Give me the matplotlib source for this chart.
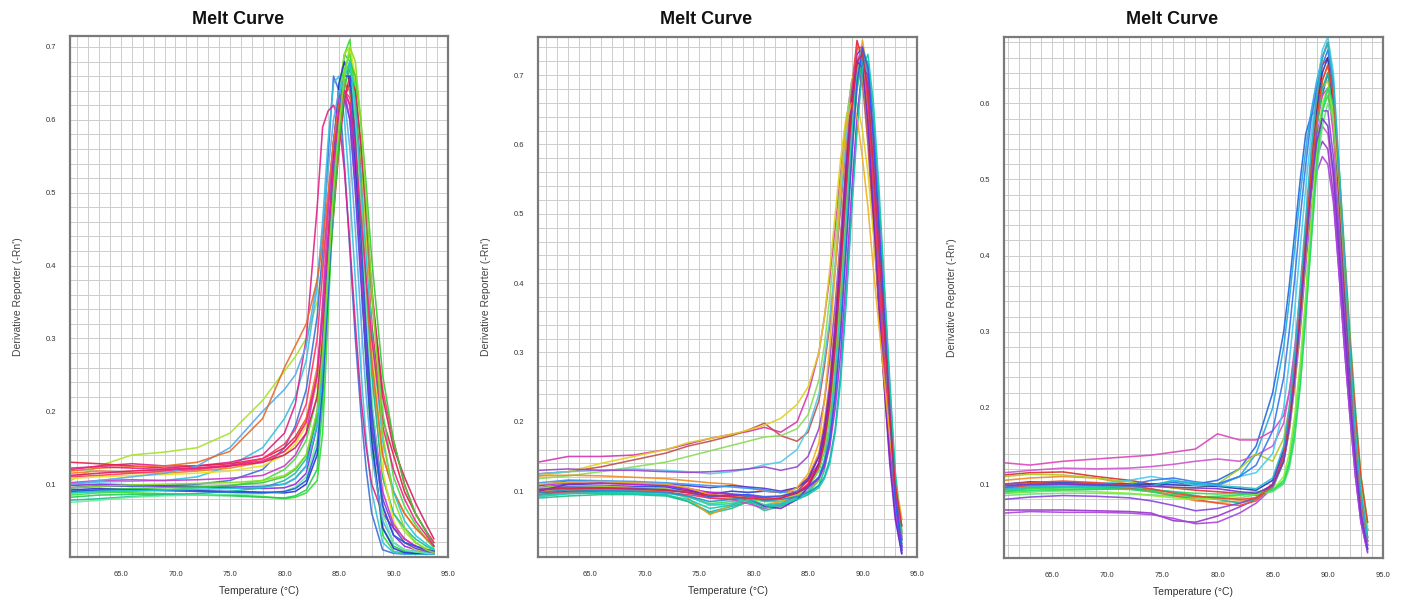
import matplotlib
matplotlib.use("Agg")
import matplotlib.pyplot as plt
from matplotlib.ticker import MultipleLocator, FormatStrFormatter

plt.rcParams['font.family'] = ['Liberation Sans', 'DejaVu Sans']

# ---------------- Panel 1 data ----------------
T1 = [60.4, 63, 66, 69, 72, 75, 78, 80, 81, 82, 83, 83.5, 84, 84.5, 85, 85.5, 86,
      86.5, 87, 87.5, 88, 89, 90, 91, 92, 93, 93.7]
p1_colors = ['#2ee02e', '#22cc55', '#a6e22e', '#3b6fd8', '#35c0e0', '#e0208a', '#e02040',
             '#f08020', '#8a2be2', '#2233cc', '#ff3366', '#1abc9c', '#e8e020', '#44dd44',
             '#cc33cc', '#55aaee', '#e86a2a', '#66ee99', '#6644dd', '#d81b60',
             '#33cc33', '#2255dd', '#22c8d8', '#ee2288', '#88dd22']
p1_curves = [
    [0.088,0.090,0.088,0.087,0.086,0.085,0.083,0.080,0.082,0.088,0.105,0.170,0.330,0.500,0.620,0.690,0.710,0.620,0.460,0.300,0.170,0.030,0.008,0.005,0.004,0.004,0.004],
    [0.082,0.085,0.086,0.086,0.085,0.084,0.082,0.081,0.084,0.092,0.120,0.210,0.380,0.540,0.640,0.690,0.680,0.560,0.400,0.260,0.150,0.040,0.015,0.008,0.006,0.005,0.005],
    [0.105,0.125,0.140,0.144,0.150,0.170,0.215,0.255,0.275,0.300,0.350,0.400,0.480,0.570,0.640,0.690,0.700,0.640,0.520,0.380,0.260,0.110,0.060,0.035,0.020,0.012,0.008],
    [0.095,0.098,0.097,0.098,0.100,0.105,0.120,0.150,0.180,0.230,0.330,0.420,0.550,0.660,0.640,0.540,0.420,0.300,0.200,0.120,0.060,0.010,0.005,0.004,0.004,0.004,0.004],
    [0.100,0.103,0.104,0.105,0.110,0.125,0.150,0.190,0.220,0.270,0.370,0.460,0.570,0.650,0.660,0.600,0.500,0.380,0.260,0.160,0.090,0.020,0.006,0.004,0.004,0.004,0.004],
    [0.120,0.125,0.128,0.125,0.125,0.130,0.140,0.170,0.210,0.300,0.480,0.590,0.612,0.620,0.600,0.530,0.430,0.320,0.220,0.150,0.100,0.060,0.040,0.025,0.015,0.010,0.008],
    [0.130,0.128,0.125,0.122,0.125,0.128,0.135,0.150,0.165,0.190,0.240,0.300,0.380,0.470,0.560,0.630,0.650,0.620,0.540,0.430,0.320,0.190,0.140,0.090,0.060,0.035,0.020],
    [0.115,0.118,0.116,0.115,0.118,0.122,0.130,0.145,0.160,0.190,0.260,0.330,0.430,0.530,0.610,0.650,0.640,0.580,0.480,0.370,0.270,0.140,0.090,0.060,0.040,0.025,0.015],
    [0.098,0.100,0.099,0.097,0.096,0.095,0.094,0.095,0.100,0.115,0.180,0.270,0.400,0.520,0.600,0.640,0.620,0.520,0.400,0.280,0.180,0.070,0.030,0.015,0.010,0.008,0.007],
    [0.092,0.094,0.093,0.092,0.091,0.090,0.089,0.088,0.090,0.100,0.140,0.250,0.420,0.560,0.650,0.680,0.650,0.540,0.400,0.270,0.160,0.040,0.012,0.006,0.005,0.005,0.005],
    [0.110,0.112,0.115,0.118,0.120,0.125,0.135,0.155,0.175,0.210,0.300,0.390,0.490,0.570,0.620,0.640,0.630,0.590,0.520,0.440,0.360,0.230,0.160,0.100,0.060,0.035,0.020],
    [0.078,0.080,0.083,0.085,0.087,0.090,0.095,0.105,0.115,0.135,0.190,0.260,0.370,0.480,0.580,0.650,0.670,0.600,0.480,0.360,0.250,0.110,0.060,0.040,0.025,0.015,0.010],
    [0.108,0.110,0.112,0.113,0.115,0.118,0.125,0.140,0.155,0.180,0.240,0.310,0.400,0.500,0.590,0.660,0.700,0.660,0.560,0.430,0.300,0.120,0.050,0.020,0.010,0.008,0.006],
    [0.085,0.088,0.090,0.092,0.095,0.098,0.105,0.120,0.135,0.160,0.220,0.300,0.410,0.520,0.610,0.670,0.690,0.640,0.560,0.460,0.360,0.200,0.110,0.070,0.045,0.025,0.012],
    [0.102,0.105,0.106,0.105,0.106,0.108,0.112,0.125,0.140,0.170,0.250,0.350,0.470,0.570,0.630,0.640,0.600,0.510,0.400,0.300,0.210,0.090,0.045,0.025,0.015,0.010,0.008],
    [0.100,0.105,0.110,0.115,0.125,0.150,0.200,0.230,0.250,0.290,0.380,0.450,0.530,0.600,0.640,0.630,0.560,0.450,0.330,0.220,0.140,0.050,0.020,0.010,0.008,0.006,0.005],
    [0.118,0.122,0.124,0.125,0.130,0.145,0.190,0.260,0.290,0.320,0.380,0.430,0.500,0.570,0.620,0.650,0.640,0.580,0.480,0.370,0.270,0.140,0.090,0.060,0.040,0.025,0.015],
    [0.075,0.078,0.082,0.084,0.085,0.086,0.087,0.090,0.096,0.110,0.160,0.240,0.370,0.500,0.600,0.660,0.680,0.610,0.480,0.340,0.220,0.060,0.020,0.010,0.007,0.005,0.005],
    [0.095,0.097,0.098,0.098,0.097,0.096,0.097,0.100,0.108,0.125,0.200,0.300,0.430,0.540,0.610,0.630,0.600,0.500,0.380,0.270,0.180,0.080,0.040,0.020,0.012,0.008,0.006],
    [0.112,0.115,0.118,0.120,0.122,0.125,0.130,0.140,0.150,0.170,0.220,0.290,0.380,0.480,0.570,0.630,0.660,0.640,0.570,0.470,0.370,0.220,0.150,0.110,0.075,0.045,0.025],
    [0.090,0.092,0.094,0.095,0.096,0.098,0.102,0.110,0.120,0.140,0.190,0.260,0.360,0.470,0.570,0.640,0.680,0.660,0.600,0.510,0.410,0.250,0.160,0.100,0.060,0.035,0.015],
    [0.090,0.092,0.092,0.091,0.090,0.089,0.088,0.090,0.094,0.105,0.150,0.230,0.360,0.500,0.610,0.660,0.660,0.570,0.440,0.310,0.200,0.070,0.030,0.020,0.015,0.010,0.008],
    [0.088,0.090,0.091,0.092,0.093,0.094,0.096,0.100,0.108,0.125,0.180,0.260,0.380,0.500,0.600,0.660,0.680,0.620,0.520,0.410,0.310,0.160,0.090,0.050,0.030,0.018,0.010],
    [0.122,0.124,0.122,0.120,0.122,0.126,0.132,0.145,0.160,0.185,0.250,0.330,0.440,0.540,0.610,0.640,0.620,0.560,0.470,0.380,0.300,0.180,0.120,0.080,0.050,0.030,0.015],
    [0.095,0.097,0.099,0.100,0.101,0.102,0.105,0.112,0.122,0.140,0.200,0.280,0.390,0.500,0.590,0.660,0.700,0.680,0.600,0.490,0.370,0.170,0.080,0.040,0.020,0.010,0.006],
]

# ---------------- Panel 2 data ----------------
T2 = [60.3, 63, 66, 69, 72, 74, 76, 78, 79.5, 81, 82.5, 84, 85, 86, 86.5, 87, 87.5,
      88, 88.5, 89, 89.5, 90, 90.5, 91, 91.5, 92, 92.5, 93, 93.6]
p2_colors = ['#2244dd', '#1ab0c8', '#33dd55', '#e02030', '#d633b0', '#c0504d', '#e0d020',
             '#88dd55', '#55c8e8', '#9944cc', '#f08a24', '#5533dd', '#20c080', '#e8a020',
             '#cc44cc', '#3399ee', '#99dd22', '#ee3366', '#22ccbb', '#7722cc',
             '#1f8fd0', '#bb22dd', '#11ccaa', '#f0b020', '#3355ee', '#dd2244']
p2_curves = [
    [0.105,0.110,0.108,0.107,0.106,0.100,0.095,0.100,0.098,0.100,0.098,0.105,0.115,0.140,0.170,0.220,0.300,0.400,0.520,0.630,0.710,0.730,0.680,0.560,0.430,0.300,0.170,0.070,0.010],
    [0.095,0.100,0.098,0.097,0.095,0.085,0.070,0.078,0.085,0.078,0.082,0.092,0.105,0.130,0.160,0.210,0.290,0.390,0.510,0.620,0.700,0.720,0.670,0.560,0.440,0.310,0.180,0.080,0.015],
    [0.100,0.104,0.103,0.102,0.100,0.092,0.082,0.085,0.090,0.085,0.085,0.090,0.098,0.115,0.140,0.180,0.250,0.350,0.470,0.590,0.690,0.730,0.690,0.580,0.460,0.330,0.200,0.090,0.020],
    [0.098,0.100,0.102,0.103,0.102,0.100,0.098,0.095,0.092,0.090,0.092,0.100,0.115,0.150,0.190,0.250,0.340,0.450,0.570,0.680,0.750,0.720,0.620,0.490,0.370,0.260,0.160,0.080,0.030],
    [0.142,0.150,0.150,0.152,0.160,0.168,0.176,0.182,0.186,0.192,0.185,0.200,0.240,0.300,0.350,0.410,0.480,0.560,0.630,0.690,0.720,0.700,0.620,0.500,0.380,0.270,0.160,0.080,0.030],
    [0.125,0.128,0.135,0.145,0.155,0.165,0.172,0.180,0.188,0.198,0.180,0.172,0.185,0.230,0.280,0.340,0.420,0.510,0.600,0.670,0.710,0.690,0.600,0.480,0.360,0.250,0.150,0.070,0.025],
    [0.122,0.128,0.140,0.150,0.160,0.170,0.176,0.182,0.188,0.195,0.205,0.225,0.250,0.300,0.350,0.420,0.500,0.580,0.640,0.670,0.660,0.620,0.560,0.470,0.380,0.290,0.200,0.120,0.060],
    [0.118,0.122,0.128,0.135,0.142,0.150,0.158,0.166,0.172,0.178,0.180,0.190,0.210,0.260,0.310,0.380,0.460,0.550,0.630,0.690,0.720,0.700,0.630,0.520,0.400,0.290,0.180,0.090,0.035],
    [0.125,0.128,0.130,0.132,0.130,0.128,0.125,0.128,0.132,0.138,0.142,0.160,0.190,0.240,0.290,0.350,0.430,0.520,0.610,0.680,0.720,0.710,0.640,0.530,0.410,0.300,0.190,0.100,0.040],
    [0.130,0.132,0.130,0.130,0.128,0.127,0.128,0.130,0.132,0.135,0.130,0.135,0.150,0.190,0.230,0.290,0.370,0.470,0.570,0.660,0.720,0.720,0.650,0.530,0.400,0.280,0.170,0.080,0.020],
    [0.122,0.123,0.122,0.120,0.118,0.115,0.112,0.110,0.105,0.100,0.098,0.105,0.120,0.155,0.200,0.260,0.350,0.460,0.580,0.680,0.740,0.730,0.650,0.540,0.420,0.310,0.200,0.110,0.050],
    [0.108,0.115,0.114,0.112,0.110,0.108,0.105,0.108,0.106,0.104,0.100,0.105,0.118,0.150,0.190,0.250,0.340,0.450,0.570,0.670,0.730,0.740,0.680,0.560,0.430,0.300,0.170,0.070,0.015],
    [0.090,0.093,0.095,0.095,0.093,0.085,0.068,0.075,0.085,0.072,0.078,0.088,0.095,0.108,0.130,0.170,0.240,0.340,0.460,0.580,0.680,0.720,0.690,0.590,0.470,0.340,0.210,0.100,0.030],
    [0.100,0.102,0.103,0.102,0.100,0.090,0.066,0.080,0.088,0.080,0.085,0.093,0.100,0.118,0.145,0.190,0.260,0.360,0.480,0.600,0.700,0.750,0.700,0.590,0.460,0.340,0.220,0.110,0.040],
    [0.103,0.108,0.108,0.105,0.103,0.098,0.090,0.088,0.082,0.075,0.080,0.095,0.110,0.140,0.175,0.230,0.310,0.410,0.530,0.640,0.720,0.740,0.680,0.560,0.420,0.290,0.160,0.070,0.012],
    [0.112,0.116,0.115,0.114,0.112,0.110,0.108,0.106,0.104,0.102,0.098,0.100,0.108,0.130,0.160,0.210,0.290,0.390,0.510,0.620,0.710,0.740,0.700,0.580,0.450,0.320,0.190,0.085,0.020],
    [0.105,0.108,0.107,0.105,0.103,0.098,0.092,0.090,0.088,0.086,0.088,0.095,0.105,0.130,0.160,0.210,0.290,0.390,0.500,0.610,0.700,0.740,0.710,0.610,0.480,0.350,0.220,0.110,0.045],
    [0.095,0.098,0.100,0.100,0.098,0.095,0.090,0.088,0.090,0.088,0.090,0.098,0.110,0.140,0.180,0.240,0.330,0.440,0.560,0.670,0.740,0.740,0.660,0.540,0.410,0.290,0.180,0.090,0.035],
    [0.092,0.096,0.098,0.098,0.097,0.092,0.080,0.082,0.090,0.080,0.082,0.090,0.100,0.120,0.145,0.190,0.270,0.370,0.490,0.610,0.700,0.730,0.690,0.580,0.460,0.330,0.200,0.090,0.025],
    [0.100,0.110,0.112,0.110,0.108,0.102,0.095,0.092,0.088,0.078,0.075,0.088,0.105,0.140,0.180,0.240,0.330,0.440,0.560,0.660,0.720,0.710,0.630,0.500,0.370,0.250,0.140,0.060,0.010],
    [0.098,0.102,0.101,0.100,0.098,0.093,0.085,0.088,0.092,0.086,0.088,0.092,0.098,0.108,0.120,0.145,0.190,0.270,0.380,0.510,0.630,0.720,0.720,0.640,0.520,0.390,0.250,0.120,0.030],
    [0.108,0.112,0.111,0.110,0.108,0.104,0.098,0.096,0.094,0.090,0.092,0.098,0.105,0.118,0.135,0.165,0.220,0.300,0.410,0.530,0.640,0.710,0.700,0.610,0.490,0.360,0.220,0.100,0.020],
    [0.094,0.097,0.097,0.096,0.094,0.088,0.075,0.080,0.088,0.076,0.080,0.088,0.095,0.105,0.118,0.140,0.185,0.260,0.370,0.500,0.620,0.710,0.730,0.660,0.540,0.400,0.260,0.130,0.040],
    [0.110,0.113,0.114,0.112,0.110,0.105,0.095,0.092,0.090,0.088,0.092,0.105,0.125,0.170,0.230,0.310,0.420,0.540,0.630,0.660,0.640,0.580,0.510,0.420,0.340,0.260,0.180,0.110,0.060],
    [0.102,0.106,0.105,0.104,0.102,0.098,0.092,0.094,0.095,0.092,0.093,0.098,0.106,0.120,0.140,0.175,0.240,0.330,0.450,0.580,0.690,0.740,0.710,0.610,0.480,0.350,0.210,0.090,0.015],
    [0.102,0.104,0.104,0.103,0.101,0.098,0.094,0.092,0.090,0.088,0.090,0.097,0.108,0.135,0.170,0.225,0.310,0.420,0.540,0.650,0.720,0.730,0.680,0.570,0.450,0.330,0.210,0.110,0.050],
]

# ---------------- Panel 3 data ----------------
T3 = [60.7, 63, 66, 69, 72, 74, 76, 78, 80, 82, 83.5, 85, 86, 86.5, 87, 87.5, 88,
      88.5, 89, 89.5, 90, 90.5, 91, 91.5, 92, 92.5, 93, 93.6]
p3_colors = ['#2266dd', '#22aadd', '#dd44bb', '#cc55cc', '#9933cc', '#aa44dd', '#e02a2a',
             '#f08a20', '#33dd44', '#aacc22', '#22bb99', '#2233bb', '#44ccee', '#66e07a',
             '#f05030', '#8844dd', '#3377ee', '#88ee33',
             '#22dd66', '#ee4422', '#22bbcc', '#7733cc']
p3_curves = [
    [0.095,0.098,0.100,0.098,0.097,0.100,0.102,0.100,0.105,0.120,0.150,0.220,0.300,0.360,0.430,0.500,0.560,0.585,0.590,0.610,0.640,0.580,0.470,0.350,0.240,0.150,0.075,0.020],
    [0.090,0.095,0.096,0.095,0.094,0.098,0.105,0.100,0.098,0.110,0.140,0.200,0.280,0.340,0.410,0.480,0.540,0.590,0.630,0.660,0.680,0.620,0.500,0.370,0.250,0.150,0.070,0.015],
    [0.128,0.125,0.130,0.133,0.136,0.138,0.142,0.146,0.166,0.158,0.158,0.170,0.190,0.220,0.270,0.340,0.420,0.500,0.570,0.610,0.620,0.560,0.450,0.340,0.230,0.140,0.070,0.020],
    [0.115,0.118,0.121,0.120,0.121,0.123,0.126,0.130,0.133,0.130,0.138,0.150,0.180,0.220,0.280,0.350,0.430,0.500,0.550,0.570,0.560,0.500,0.400,0.300,0.210,0.130,0.070,0.020],
    [0.066,0.066,0.066,0.065,0.064,0.062,0.052,0.050,0.058,0.070,0.080,0.100,0.140,0.180,0.240,0.320,0.410,0.480,0.530,0.550,0.540,0.480,0.380,0.280,0.190,0.110,0.050,0.010],
    [0.062,0.064,0.063,0.063,0.062,0.060,0.055,0.048,0.050,0.062,0.075,0.095,0.130,0.170,0.230,0.300,0.390,0.460,0.510,0.530,0.520,0.470,0.380,0.280,0.190,0.110,0.050,0.012],
    [0.112,0.115,0.116,0.110,0.105,0.100,0.095,0.092,0.090,0.088,0.085,0.100,0.140,0.190,0.260,0.340,0.430,0.520,0.600,0.650,0.660,0.600,0.480,0.360,0.250,0.160,0.090,0.040],
    [0.105,0.108,0.110,0.108,0.100,0.092,0.085,0.078,0.076,0.078,0.080,0.095,0.130,0.170,0.230,0.310,0.400,0.490,0.570,0.630,0.650,0.600,0.490,0.370,0.260,0.160,0.090,0.040],
    [0.092,0.094,0.095,0.096,0.094,0.092,0.090,0.088,0.087,0.088,0.090,0.092,0.105,0.130,0.180,0.250,0.340,0.440,0.530,0.590,0.610,0.580,0.490,0.380,0.270,0.170,0.090,0.030],
    [0.110,0.113,0.112,0.108,0.103,0.098,0.095,0.095,0.100,0.120,0.140,0.130,0.160,0.200,0.260,0.340,0.430,0.510,0.580,0.620,0.630,0.580,0.470,0.360,0.250,0.150,0.080,0.025],
    [0.088,0.090,0.092,0.093,0.094,0.093,0.090,0.085,0.080,0.075,0.080,0.095,0.130,0.175,0.240,0.320,0.410,0.500,0.570,0.620,0.640,0.600,0.500,0.390,0.280,0.180,0.100,0.040],
    [0.100,0.103,0.102,0.101,0.100,0.100,0.099,0.098,0.097,0.094,0.092,0.105,0.145,0.190,0.260,0.340,0.430,0.520,0.590,0.640,0.660,0.600,0.480,0.360,0.250,0.160,0.080,0.025],
    [0.094,0.097,0.098,0.100,0.105,0.110,0.105,0.098,0.100,0.110,0.115,0.140,0.200,0.260,0.330,0.410,0.490,0.560,0.620,0.670,0.687,0.640,0.520,0.390,0.270,0.160,0.080,0.020],
    [0.085,0.087,0.088,0.088,0.087,0.086,0.084,0.082,0.080,0.082,0.086,0.090,0.100,0.120,0.160,0.230,0.320,0.420,0.510,0.570,0.600,0.580,0.500,0.390,0.280,0.180,0.100,0.040],
    [0.095,0.098,0.100,0.098,0.094,0.090,0.085,0.080,0.075,0.072,0.078,0.098,0.140,0.190,0.260,0.350,0.440,0.530,0.610,0.660,0.680,0.610,0.490,0.370,0.260,0.160,0.080,0.025],
    [0.080,0.083,0.085,0.084,0.082,0.078,0.072,0.065,0.068,0.075,0.082,0.100,0.140,0.185,0.250,0.330,0.420,0.500,0.560,0.590,0.590,0.530,0.430,0.320,0.220,0.130,0.060,0.015],
    [0.096,0.100,0.101,0.100,0.099,0.105,0.108,0.103,0.100,0.110,0.125,0.170,0.240,0.300,0.370,0.450,0.520,0.580,0.620,0.650,0.670,0.620,0.510,0.390,0.270,0.170,0.090,0.030],
    [0.088,0.090,0.091,0.090,0.088,0.085,0.082,0.080,0.082,0.085,0.087,0.092,0.110,0.140,0.190,0.260,0.350,0.450,0.540,0.600,0.620,0.590,0.500,0.390,0.280,0.180,0.100,0.045],
    [0.090,0.092,0.093,0.094,0.093,0.090,0.086,0.083,0.084,0.086,0.088,0.092,0.102,0.125,0.165,0.230,0.320,0.420,0.520,0.590,0.620,0.600,0.520,0.410,0.300,0.200,0.110,0.050],
    [0.100,0.102,0.104,0.102,0.098,0.094,0.088,0.084,0.082,0.080,0.082,0.098,0.135,0.180,0.250,0.330,0.420,0.510,0.580,0.630,0.650,0.610,0.510,0.400,0.290,0.190,0.110,0.050],
    [0.093,0.096,0.097,0.097,0.096,0.098,0.104,0.102,0.098,0.096,0.094,0.108,0.150,0.200,0.270,0.360,0.450,0.540,0.610,0.660,0.680,0.630,0.520,0.400,0.280,0.170,0.090,0.030],
    [0.098,0.100,0.100,0.099,0.098,0.097,0.096,0.095,0.094,0.090,0.088,0.098,0.130,0.175,0.240,0.320,0.410,0.490,0.550,0.580,0.570,0.510,0.410,0.310,0.210,0.130,0.060,0.015],
]

title_text = "Melt Curve"
xlabel_text = "Temperature (\u00b0C)"
ylabel_text = "Derivative Reporter (-Rn')"
x_ticks = [65, 70, 75, 80, 85, 90, 95]
p1_yticks = [0.1, 0.2, 0.3, 0.4, 0.5, 0.6, 0.7]
p2_yticks = [0.1, 0.2, 0.3, 0.4, 0.5, 0.6, 0.7]
p3_yticks = [0.1, 0.2, 0.3, 0.4, 0.5, 0.6]

panels = [
    dict(T=T1, curves=p1_curves, colors=p1_colors, yt=p1_yticks, rect=[70, 36, 448, 557], xlim=(60.33, 95.0), ylim=(0.0, 0.715)),
    dict(T=T2, curves=p2_curves, colors=p2_colors, yt=p2_yticks, rect=[538, 37, 917, 557], xlim=(60.23, 95.0), ylim=(0.005, 0.755)),
    dict(T=T3, curves=p3_curves, colors=p3_colors, yt=p3_yticks, rect=[1004, 37, 1383, 558], xlim=(60.65, 95.0), ylim=(0.003, 0.687)),
]

W, H = 1402, 599
fig = plt.figure(figsize=(W / 100, H / 100), dpi=100)
fig.patch.set_facecolor('white')

for p in panels:
    l, t, r, b = p['rect']
    ax = fig.add_axes([l / W, 1 - b / H, (r - l) / W, (b - t) / H])
    for ys, c in zip(p['curves'], p['colors']):
        ax.plot(p['T'], ys, color=c, lw=1.15, alpha=0.9, solid_joinstyle='round')
    ax.set_xlim(*p['xlim'])
    ax.set_ylim(*p['ylim'])
    ax.set_xticks(x_ticks)
    ax.set_yticks(p['yt'])
    ax.xaxis.set_minor_locator(MultipleLocator(1))
    ax.yaxis.set_minor_locator(MultipleLocator(0.02))
    ax.xaxis.set_major_formatter(FormatStrFormatter('%.1f'))
    ax.yaxis.set_major_formatter(FormatStrFormatter('%.1f'))
    ax.grid(True, which='both', color='#cdcdcd', lw=0.7)
    ax.set_axisbelow(True)
    ax.tick_params(which='both', length=0, labelsize=5.5, labelcolor='#333333')
    ax.tick_params(axis='x', pad=10)
    ax.tick_params(axis='y', pad=10)
    for s in ax.spines.values():
        s.set_color('#7a7a7a')
        s.set_linewidth(1.6)
    ax.set_xlabel(xlabel_text, fontsize=7.5, color='#333333', labelpad=6)
    ax.set_ylabel(ylabel_text, fontsize=7.5, color='#444444', labelpad=16)
    cx = (l + r) / 2 - 21
    fig.text(cx / W, 1 - 20 / H, title_text, ha='center', va='center',
             fontsize=13, fontweight='bold', color='#111111')

fig.savefig('out.png', dpi=100, facecolor='white')
